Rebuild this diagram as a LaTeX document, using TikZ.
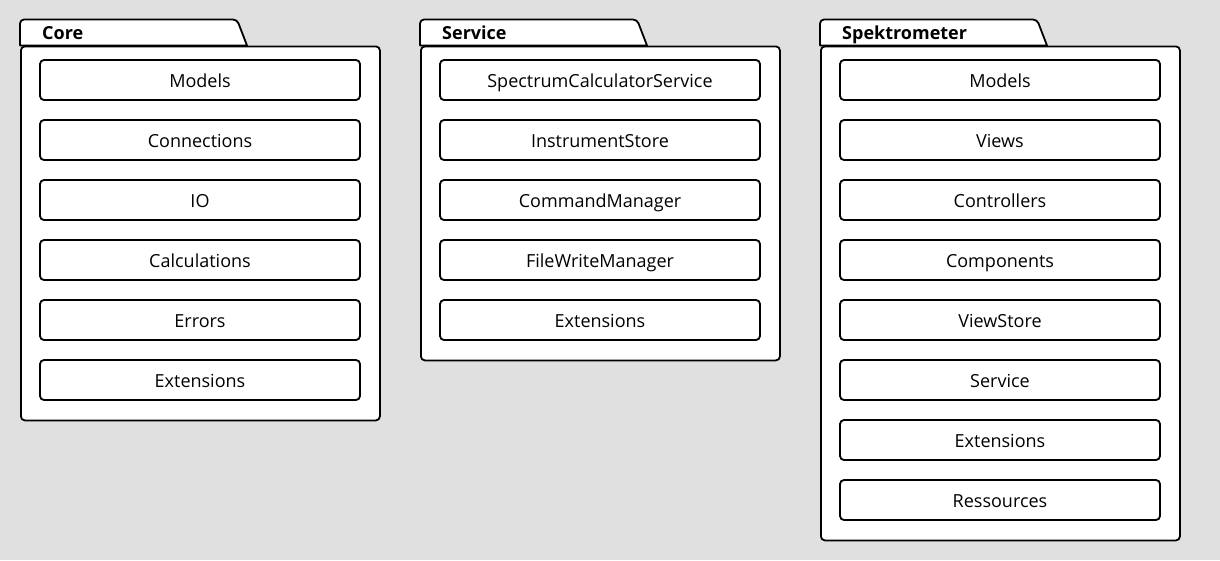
\documentclass[tikz,border=0pt]{standalone}
\usepackage{fontspec}
\setmainfont{Open Sans}
\definecolor{bg}{RGB}{224,224,224}
\begin{document}
\begin{tikzpicture}[x={(1pt,0)},y={(0,-1pt)},
  pkgbody/.style={draw=black,fill=white,line width=1.8pt,rounded corners=4pt,
    minimum width=359pt,anchor=north west,inner sep=0pt},
  tabshape/.style={draw=black,fill=white,line width=1.8pt,line join=round},
  tablabel/.style={anchor=base west,font=\fontsize{18}{21}\selectfont\bfseries,inner sep=0pt},
  item/.style={draw=black,fill=white,line width=1.8pt,rounded corners=4pt,
    minimum width=320pt,minimum height=40pt,inner sep=0pt,
    text height=14pt,text depth=0pt,
    font=\fontsize{18}{21}\selectfont}]
\useasboundingbox (0,0) rectangle (1220,560);
\fill[bg] (0,0) rectangle (1220,560);
% packages
\foreach \nm/\x/\h/\lab in {core/20/374/Core, serv/420/314/Service, spek/820/494/Spektrometer}{
  \node[pkgbody,minimum height=\h pt] (\nm) at (\x,45.5) {};
  \draw[tabshape] (\nm.north west) [rounded corners=4pt] -- ++(0,-26) -- ++(217,0) [sharp corners] -- ++(10,26) -- cycle;
  \node[tablabel] (\nm-lab) at ([xshift=22pt,yshift=6pt]\nm.north west) {\lab};
}
% Core items
\foreach \i/\t in {1/Models,2/Connections,3/IO,4/Calculations,5/Errors,6/Extensions}{
  \node[item] (core\i) at (200,20+60*\i) {\t};
}
% Service items
\foreach \i/\t in {1/SpectrumCalculatorService,2/InstrumentStore,3/CommandManager,4/FileWriteManager,5/Extensions}{
  \node[item] (serv\i) at (600,20+60*\i) {\t};
}
% Spektrometer items
\foreach \i/\t in {1/Models,2/Views,3/Controllers,4/Components,5/ViewStore,6/Service,7/Extensions,8/Ressources}{
  \node[item] (spek\i) at (1000,20+60*\i) {\t};
}
\end{tikzpicture}
\end{document}
